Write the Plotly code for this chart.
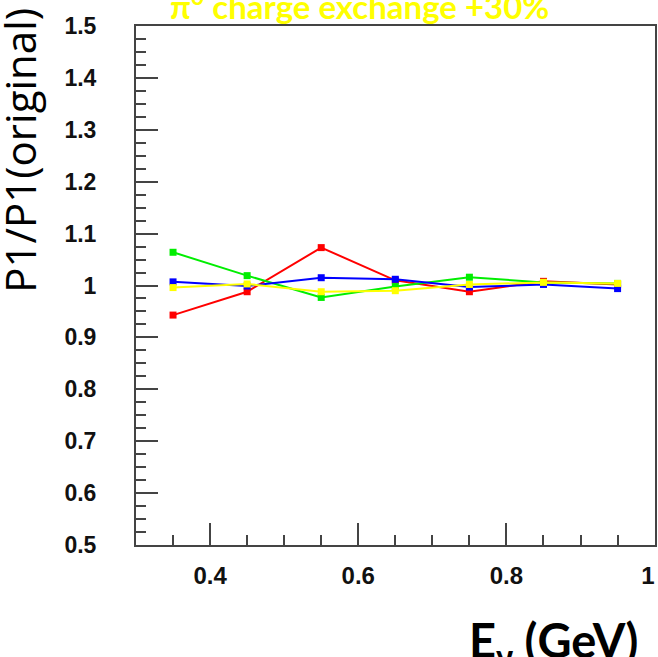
import plotly.graph_objects as go

energy = [0.35, 0.45, 0.55, 0.65, 0.75, 0.85, 0.95]
red_vals = [0.943, 0.988, 1.073, 1.010, 0.988, 1.008, 1.002]
green_vals = [1.064, 1.019, 0.977, 0.998, 1.016, 1.006, 1.004]
blue_vals = [1.007, 0.999, 1.015, 1.012, 0.997, 1.002, 0.994]
yellow_vals = [0.996, 1.003, 0.988, 0.990, 1.002, 1.006, 1.004]

series = [
    ("red", red_vals, "#ff0000"),
    ("green", green_vals, "#00ee00"),
    ("blue", blue_vals, "#0000ff"),
    ("yellow", yellow_vals, "#ffff00"),
]

x_ticks = [0.4, 0.6, 0.8, 1.0]
x_tick_text = ["0.4", "0.6", "0.8", "1\u00a0\u00a0"]
y_ticks = [0.5, 0.6, 0.7, 0.8, 0.9, 1.0, 1.1, 1.2, 1.3, 1.4, 1.5]
y_tick_text = ["0.5", "0.6", "0.7", "0.8", "0.9", "1", "1.1", "1.2", "1.3", "1.4", "1.5"]

fig = go.Figure()
for name, vals, col in series:
    fig.add_trace(go.Scatter(
        x=energy, y=vals, mode="lines+markers", name=name,
        line=dict(color=col, width=2),
        marker=dict(symbol="square", size=7, color=col),
        showlegend=False,
    ))

frame = "#444444"
xtickfont = dict(family="Liberation Sans", size=24, color="#111111", weight="bold")
ytickfont = dict(family="Liberation Sans", size=23, color="#111111", weight="bold")

fig.update_layout(
    width=658, height=657,
    margin=dict(l=136, r=3, t=26, b=112),
    paper_bgcolor="white", plot_bgcolor="white",
    xaxis=dict(
        range=[0.3, 1.0005], showgrid=False, zeroline=False, automargin=False,
        showline=True, linecolor=frame, linewidth=2, mirror=True,
        tickmode="array", tickvals=x_ticks, ticktext=x_tick_text,
        ticks="inside", ticklen=22, tickwidth=2, tickcolor=frame,
        minor=dict(dtick=0.05, tick0=0.3, ticks="inside", ticklen=10, tickwidth=2, tickcolor=frame, showgrid=False),
        tickfont=xtickfont, ticklabelstandoff=8, ticklabeloverflow="allow",
    ),
    yaxis=dict(
        range=[0.5, 1.5], showgrid=False, zeroline=False, automargin=False,
        showline=True, linecolor=frame, linewidth=2, mirror=True,
        tickmode="array", tickvals=y_ticks, ticktext=y_tick_text,
        ticks="inside", ticklen=22, tickwidth=2, tickcolor=frame,
        minor=dict(dtick=0.025, tick0=0.5, ticks="inside", ticklen=10, tickwidth=2, tickcolor=frame, showgrid=False),
        tickfont=ytickfont, ticklabelstandoff=33,
    ),
)

fig.add_annotation(
    text="π<sup>0</sup> charge exchange +30%", xref="paper", yref="paper",
    x=0.43, y=0.997, xanchor="center", yanchor="bottom", showarrow=False,
    font=dict(family="Lato", size=33, color="#ffff00", weight="bold"),
)
fig.add_annotation(
    text="P1/P1(original)", xref="paper", yref="paper",
    x=-0.226, y=0.761, xanchor="center", yanchor="middle", showarrow=False,
    textangle=-90,
    font=dict(family="Open Sans", size=42, color="#000000"),
)
fig.add_annotation(
    text="E<sub>ν</sub> (GeV)", xref="paper", yref="paper",
    x=0.972, y=-0.125, xanchor="right", yanchor="top", showarrow=False,
    font=dict(family="Lato", size=47, color="#000000", weight="bold"),
)

fig.write_html("out.html")
